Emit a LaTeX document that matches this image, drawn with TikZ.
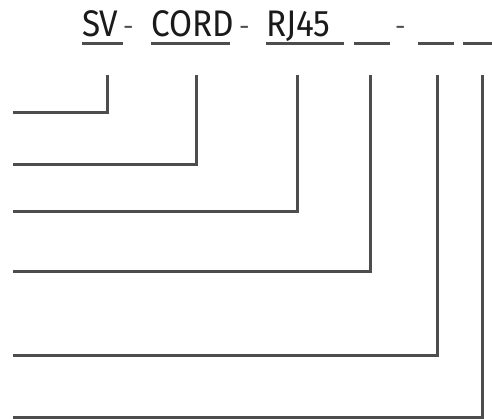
\documentclass[tikz,border=0pt]{standalone}
\usepackage{fontspec}
\setmainfont{Fira Sans}
\newfontfamily\codefont[FakeStretch=0.9]{Fira Sans}
\usepackage{tikz}

\definecolor{leadgray}{HTML}{4D4D4D}
\definecolor{codeblack}{HTML}{1A1A1A}

\tikzset{
  field/.style={inner sep=0pt, anchor=base west, text width=#1, align=left,
    text depth=0pt, font=\codefont\fontsize{37}{37}\selectfont, text=codeblack},
  sep/.style={inner sep=0pt, anchor=base west, font=\fontsize{26}{26}\selectfont, text=leadgray},
  uline/.style={draw=leadgray, line width=3pt},
  lead/.style={draw=leadgray, line width=3pt}
}

\begin{document}
\begin{tikzpicture}[x=1pt, y=-1pt]
\useasboundingbox (0,0) rectangle (492,419);
\node[field=41pt] (sv) at (82,37) {SV};
\node[sep] (d1) at (123,36) {-};
\node[field=79pt] (cord) at (151,37) {CORD};
\node[sep] (d2) at (239,36) {-};
\node[field=78pt] (rj) at (266,37) {RJ45};
\node[field=36pt] (b1) at (354,37) {};
\node[sep] (d3) at (395,36) {-};
\node[field=36pt] (b2) at (418,37) {};
\node[field=29pt] (b3) at (463,37) {};
\foreach \f in {sv,cord,rj,b1,b2,b3} {
\draw[uline] ([yshift=-7pt]\f.base west) -- ([yshift=-7pt]\f.base east);
}
\foreach \n/\x/\y in {1/107/113, 2/196/165, 3/297/212, 4/370/272, 5/437/355, 6/482/417} {
\coordinate (top\n) at (\x,75);
\coordinate (end\n) at (13,\y);
\draw[lead] (top\n) |- (end\n);
}
\end{tikzpicture}
\end{document}
